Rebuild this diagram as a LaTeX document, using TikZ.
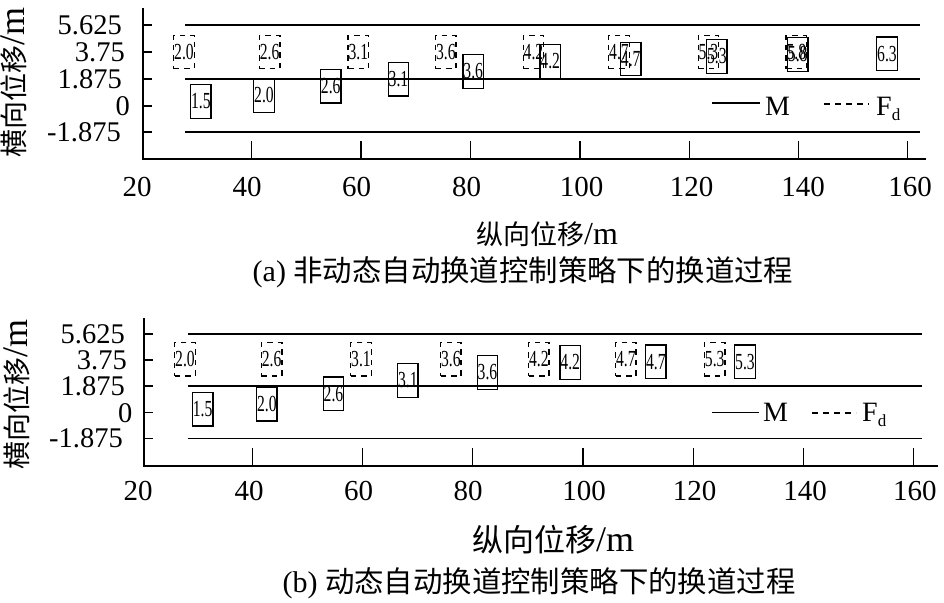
\documentclass[tikz,border=0pt]{standalone}
\usepackage{fontspec}
\usepackage{graphicx}
\setmainfont{Liberation Serif}
\newfontfamily\cjk{Noto Sans CJK SC}
\newcommand{\fs}[1]{\fontsize{#1}{#1}\selectfont}
\newcommand{\cl}[1]{\fs{23}\scalebox{0.68}[1]{#1}}
\tikzset{
  ax/.style={line width=2pt},
  lane/.style={line width=1.4pt},
  lanetop/.style={line width=2pt},
  tk/.style={line width=1.5pt},
  car/.style={draw, line width=1.3pt, minimum width=20.5pt, minimum height=33.5pt, inner sep=0pt},
  fcar/.style={car, dash pattern=on 5.5pt off 5pt},
  lbl/.style={inner sep=0pt, font=\fs{28.5}},
  xlbl/.style={inner sep=0pt, font=\fs{29}},
  leg/.style={inner sep=0pt, font=\fs{28}, anchor=base west}
}
\begin{document}
\begin{tikzpicture}[x=1pt,y=-1pt]
\useasboundingbox (0,0) rectangle (944,602);
\fill[white] (0,0) rectangle (944,602);

% ================= TOP PLOT =================
\coordinate (ya1) at (143,8);
\coordinate (o1) at (143,159);
\coordinate (xa1) at (926,159);
\draw[ax] (ya1) -- (o1) -- (xa1);
\foreach \y in {25,52,79,106,132} \draw[tk] (143,\y) -- (152,\y);
\foreach \x in {251.7,361,470.7,580,689.3,798.3,907.7} \draw[tk] (\x,159) -- (\x,141);
\node[lbl, anchor=east] (ty1) at (122,25) {5.625};
\node[lbl, anchor=east] (ty2) at (125,52) {3.75};
\node[lbl, anchor=east] (ty3) at (122,79) {1.875};
\node[lbl, anchor=east] (ty4) at (130,106) {0};
\node[lbl, anchor=east] (ty5) at (121,132) {-1.875};
\foreach \x/\t [count=\i] in {137/20,247/40,356.7/60,466.7/80,581.7/100,691.7/120,803/140,910/160}
  \node[xlbl] (tx\i) at (\x,186.5) {\t};
% lane lines
\coordinate (l1a) at (185,25);  \coordinate (l1b) at (920,25);
\coordinate (l2a) at (185,79);  \coordinate (l2b) at (920,79);
\coordinate (l3a) at (185,132); \coordinate (l3b) at (920,132);
\draw[lanetop] (l1a) -- (l1b);
\draw[lane] (l2a) -- (l2b);
\draw[lane] (l3a) -- (l3b);
\coordinate (l3c) at (795,132); \coordinate (l3d) at (902,132);
\draw[line width=2.4pt] (l3c) -- (l3d);
% following vehicle (dashed)
\foreach \x/\t [count=\i] in {184/2.0,269.7/2.6,358.3/3.1,445.8/3.6,533.5/4.2,619/4.7,708.5/5.3,796.3/5.8}
  \node[fcar] (fa\i) at (\x,52) {\cl{\t}};
% main vehicle (solid)
\foreach \x/\y/\t [count=\i] in {200.8/101.5/1.5,264/95.5/2.0,330.7/86.2/2.6,398.5/79.3/3.1,473.2/71.5/3.6,550.2/61.5/4.2,630.7/59/4.7,716.8/56.5/5.3,797.7/54.5/5.8,887/53.8/6.3}
  \node[car] (ma\i) at (\x,\y) {\cl{\t}};
% legend
\coordinate (lga1) at (712,103); \coordinate (lga2) at (760,103);
\draw[line width=1.4pt] (lga1) -- (lga2);
\node[leg] (lgm1) at (765,115) {M};
\coordinate (lga3) at (824,104); \coordinate (lga4) at (869,104);
\draw[line width=1.4pt, dash pattern=on 6pt off 5pt] (lga3) -- (lga4);
\node[leg] (lgf1) at (876,115) {F\raisebox{-5pt}{\fs{17}d}};
% titles
\node[rotate=90, anchor=west, inner sep=0pt] (yt1) at (14,158) {{\cjk\fs{28}横向位移}{\fs{36}/m}};
\node[inner sep=0pt] (xt1) at (547,234) {{\cjk\fs{27}纵向位移}{\fs{32}/m}};
\node[inner sep=0pt] (cap1) at (523,272) {{\fs{30}(a) }{\cjk\fs{29.4}非动态自动换道控制策略下的换道过程}};

% ================= BOTTOM PLOT =================
\coordinate (ya2) at (144,318);
\coordinate (o2) at (144,466);
\coordinate (xa2) at (938,466);
\draw[ax] (ya2) -- (o2) -- (xa2);
\foreach \y in {334,360,386,412.7,438.3} \draw[tk] (144,\y) -- (153,\y);
\foreach \x in {252.7,362.3,472.7,583,693.3,803.3,913.3} \draw[tk] (\x,466) -- (\x,448);
\node[lbl, anchor=east] (by1) at (125,334) {5.625};
\node[lbl, anchor=east] (by2) at (127,360) {3.75};
\node[lbl, anchor=east] (by3) at (125,386) {1.875};
\node[lbl, anchor=east] (by4) at (132.5,412.7) {0};
\node[lbl, anchor=east] (by5) at (123,438.3) {-1.875};
\foreach \x/\t [count=\i] in {138/20,249/40,358.6/60,468/80,584/100,694.7/120,805/140,914.8/160}
  \node[xlbl] (bx\i) at (\x,491) {\t};
\coordinate (m1a) at (187.7,334);  \coordinate (m1b) at (921.7,334);
\coordinate (m2a) at (187.7,386);  \coordinate (m2b) at (921.7,386);
\coordinate (m3a) at (187.7,438.3); \coordinate (m3b) at (921.7,438.3);
\draw[lanetop] (m1a) -- (m1b);
\draw[lane] (m2a) -- (m2b);
\draw[lane] (m3a) -- (m3b);
\foreach \x/\t [count=\i] in {185/2.0,271.7/2.6,361/3.1,450.8/3.6,538.8/4.2,625.8/4.7,714.7/5.3}
  \node[fcar] (fb\i) at (\x,359.3) {\cl{\t}};
\foreach \x/\y/\t [count=\i] in {202.7/409.2/1.5,266.8/404.2/2.0,333.5/393.8/2.6,407.8/380.5/3.1,487.5/372.5/3.6,570.2/362.5/4.2,655.8/361.7/4.7,745/361.7/5.3}
  \node[car] (mb\i) at (\x,\y) {\cl{\t}};
\coordinate (lgb1) at (712,412.7); \coordinate (lgb2) at (759,412.7);
\draw[line width=1.4pt] (lgb1) -- (lgb2);
\node[leg] (lgm2) at (763,421.7) {M};
\coordinate (lgb3) at (812,413); \coordinate (lgb4) at (856,413);
\draw[line width=1.4pt, dash pattern=on 6pt off 5pt] (lgb3) -- (lgb4);
\node[leg] (lgf2) at (862,421.7) {F\raisebox{-5pt}{\fs{17}d}};
\node[rotate=90, anchor=west, inner sep=0pt] (yt2) at (17,470) {{\cjk\fs{28}横向位移}{\fs{36}/m}};
\node[inner sep=0pt] (xt2) at (553,540) {{\cjk\fs{31}纵向位移}{\fs{36}/m}};
\node[inner sep=0pt] (cap2) at (539,583) {{\fs{30}(b) }{\cjk\fs{29.4}动态自动换道控制策略下的换道过程}};
\end{tikzpicture}
\end{document}
